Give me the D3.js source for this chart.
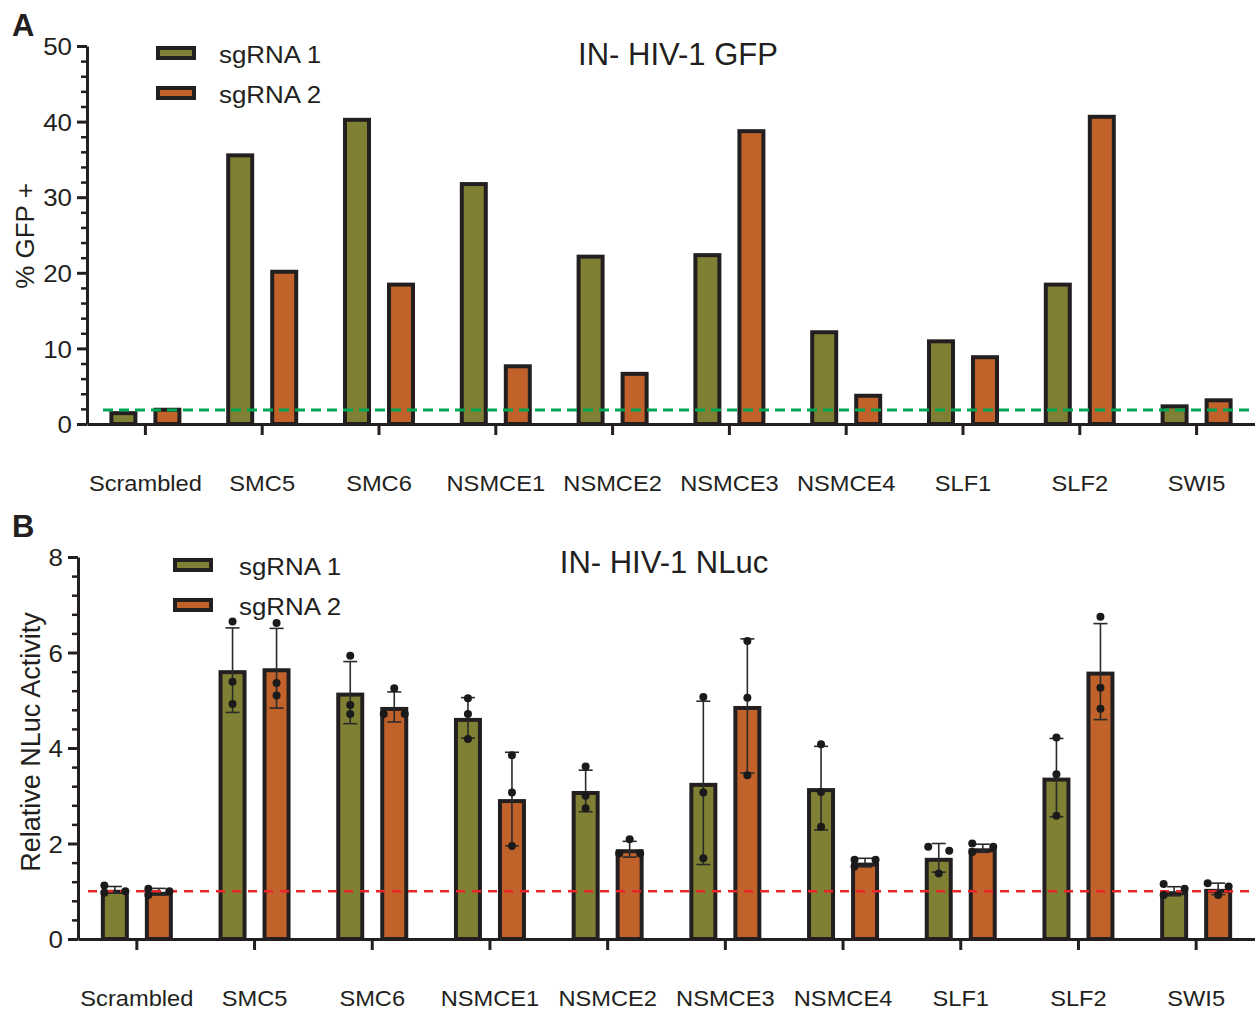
<!DOCTYPE html>
<html>
<head>
<meta charset="utf-8">
<script src="https://cdn.jsdelivr.net/npm/d3@7"></script>
<style>
  html, body { margin: 0; padding: 0; background: #fff; }
  svg { display: block; }
  text { font-family: "Liberation Sans", Arial, Helvetica, sans-serif; fill: #231f20; }
</style>
</head>
<body>
<svg id="chart" width="1255" height="1011"></svg>
<script>
// ---------------- DATA ----------------
const categories = ["Scrambled","SMC5","SMC6","NSMCE1","NSMCE2","NSMCE3","NSMCE4","SLF1","SLF2","SWI5"];
const seriesNames = ["sgRNA 1","sgRNA 2"];

// Panel A: % GFP+
const gfpSg1 = [1.7, 35.8, 40.5, 32.0, 22.4, 22.6, 12.4, 11.2, 18.7, 2.6];
const gfpSg2 = [2.15, 20.4, 18.7, 7.9, 6.9, 39.0, 4.0, 9.1, 40.9, 3.4];
const gfpReference = 1.85;
const gfpTicks = [0, 10, 20, 30, 40, 50];
const gfpMinorStep = 2;

// Panel B: relative NLuc activity (mean, SD, replicates)
const nlucSg1Mean = [1.03, 5.63, 5.16, 4.63, 3.10, 3.27, 3.16, 1.70, 3.38, 1.00];
const nlucSg2Mean = [0.99, 5.67, 4.86, 2.93, 1.88, 4.88, 1.60, 1.90, 5.60, 1.05];
const nlucSg1SD   = [0.07, 0.885, 0.65, 0.425, 0.435, 1.71, 0.875, 0.30, 0.82, 0.095];
const nlucSg2SD   = [0.07, 0.835, 0.315, 0.98, 0.165, 1.405, 0.09, 0.085, 1.005, 0.12];
const nlucSg1Reps = [
  [1.12, 0.97, 1.00], [6.65, 5.39, 4.92], [5.93, 4.90, 4.71], [5.04, 4.71, 4.19], [3.61, 3.00, 2.74],
  [5.07, 3.07, 1.69], [4.08, 3.08, 2.35], [1.93, 1.85, 1.37], [4.22, 3.45, 2.58], [1.15, 1.05, 0.92]
];
const nlucSg2Reps = [
  [1.05, 0.92, 1.00], [6.62, 5.36, 5.10], [5.25, 4.71, 4.71], [3.85, 3.07, 1.95], [2.09, 1.79, 1.79],
  [6.24, 5.05, 3.43], [1.66, 1.66, 1.52], [2.00, 1.93, 1.82], [6.75, 5.26, 4.82], [1.17, 1.10, 0.92]
];
const nlucReference = 1.0;
const nlucTicks = [0, 2, 4, 6, 8];
const nlucMinorStep = 0.4;

// ---------------- STYLE ----------------
const COLORS = ["#808034", "#c0622a"];
const INK = "#231f20";
const svg = d3.select("#chart");

function stext(g, x, y, str, size, anchor, sx, weight) {
  return g.append("text")
    .attr("transform", `translate(${x},${y}) scale(${sx},1)`)
    .attr("text-anchor", anchor)
    .style("font-size", size + "px")
    .style("font-weight", weight || "normal")
    .text(str);
}

function panel(cfg) {
  const g = svg.append("g");
  const x = d3.scaleBand().domain(categories).range([cfg.x0, 1255]).paddingInner(0).paddingOuter(0);
  const x1 = d3.scaleBand().domain(seriesNames).range([-36, 36]).paddingInner(0.364).paddingOuter(0);
  const y = d3.scaleLinear().domain([0, cfg.yMax]).range([cfg.yBottom, cfg.yTop]);
  const cx = c => x(c) + x.bandwidth() / 2;

  // bars
  const rows = [];
  categories.forEach((c, i) => {
    seriesNames.forEach((s, j) => {
      rows.push({c, s, j, v: cfg.values[j][i], i});
    });
  });
  g.append("g").selectAll("rect").data(rows).join("rect")
    .attr("x", d => cx(d.c) + x1(d.s) + 2)
    .attr("width", x1.bandwidth() - 4)
    .attr("y", d => y(d.v) + 2)
    .attr("height", d => Math.max(0, y(0) - y(d.v) - 2))
    .attr("fill", d => COLORS[d.j])
    .attr("stroke", INK)
    .attr("stroke-width", 4);

  // error bars
  if (cfg.sds) {
    const eb = g.append("g").attr("stroke", "#2a2a2a").attr("stroke-width", 1.6);
    rows.forEach(d => {
      const sd = cfg.sds[d.j][d.i];
      const bx = cx(d.c) + x1(d.s) + x1.bandwidth() / 2;
      const yHi = y(d.v + sd), yLo = y(d.v - sd);
      eb.append("line").attr("x1", bx).attr("x2", bx).attr("y1", yHi).attr("y2", yLo);
      eb.append("line").attr("x1", bx - 7).attr("x2", bx + 7).attr("y1", yHi).attr("y2", yHi);
      eb.append("line").attr("x1", bx - 7).attr("x2", bx + 7).attr("y1", yLo).attr("y2", yLo);
    });
  }

  // reference dashed line
  g.append("line")
    .attr("x1", cfg.x0 + cfg.refStart).attr("x2", 1255)
    .attr("y1", y(cfg.ref)).attr("y2", y(cfg.ref))
    .attr("stroke", cfg.refColor).attr("stroke-width", cfg.refWidth)
    .attr("stroke-dasharray", cfg.refDash);

  // replicate points
  if (cfg.reps) {
    const dots = g.append("g").attr("fill", "#1a1a1a");
    const r = 4, dx = 10.5;
    rows.forEach(d => {
      const bx = cx(d.c) + x1(d.s) + x1.bandwidth() / 2;
      const vals = cfg.reps[d.j][d.i].slice().sort((a, b) => b - a);
      const clusters = [];
      vals.forEach(v => {
        const last = clusters[clusters.length - 1];
        if (last && Math.abs(y(last[last.length - 1]) - y(v)) < 2 * r) last.push(v);
        else clusters.push([v]);
      });
      clusters.forEach(cl => {
        cl.forEach((v, k) => {
          const off = cl.length === 1 ? 0 : (k % 2 === 0 ? -dx : dx);
          dots.append("circle").attr("cx", bx + off).attr("cy", y(v)).attr("r", r);
        });
      });
    });
  }

  // axes
  const minor = d3.range(0, cfg.yMax + 1e-9, cfg.minorStep).filter(v => !cfg.ticks.some(t => Math.abs(t - v) < 1e-9));
  const yMinor = g.append("g").attr("transform", `translate(${cfg.x0},0)`)
    .call(d3.axisLeft(y).tickValues(minor).tickSize(6).tickFormat(""));
  yMinor.select(".domain").remove();
  yMinor.selectAll("line").attr("stroke", INK).attr("stroke-width", 2.5);

  const yAxis = g.append("g").attr("transform", `translate(${cfg.x0},0)`)
    .call(d3.axisLeft(y).tickValues(cfg.ticks).tickSize(10).tickSizeOuter(0).tickFormat(d3.format("d")));
  yAxis.select(".domain").attr("stroke", INK).attr("stroke-width", 3);
  yAxis.selectAll(".tick line").attr("stroke", INK).attr("stroke-width", 3);
  yAxis.selectAll(".tick text")
    .attr("x", -15 / 1.08).attr("dy", "0.36em")
    .attr("transform", "scale(1.08,1)")
    .style("font-size", "24px").attr("fill", INK);
  yAxis.attr("font-family", null).attr("font-size", null);

  const xAxis = g.append("g").attr("transform", `translate(0,${cfg.yBottom})`)
    .call(d3.axisBottom(x).tickSize(11).tickSizeOuter(0).tickPadding(41));
  xAxis.select(".domain").attr("stroke", INK).attr("stroke-width", 3);
  xAxis.selectAll(".tick line").attr("stroke", INK).attr("stroke-width", 3);
  xAxis.selectAll(".tick text")
    .attr("transform", "scale(1.1,1)")
    .style("font-size", "21.5px").attr("fill", INK);
  xAxis.attr("font-family", null).attr("font-size", null);

  // y title
  g.append("text")
    .attr("transform", `translate(${cfg.yTitleX},${cfg.yTitleY}) rotate(-90)`)
    .attr("text-anchor", "middle")
    .style("font-size", cfg.yTitleSize + "px")
    .text(cfg.yTitle);

  // title
  stext(g, cfg.titleX, cfg.titleY, cfg.title, 31, "middle", 1.0);

  // panel letter
  stext(g, 12, cfg.letterY, cfg.letter, 31, "start", 1.0, "bold");

  // legend
  seriesNames.forEach((s, j) => {
    g.append("rect")
      .attr("x", cfg.legX + 2).attr("y", cfg.legY + j * 40 + 2)
      .attr("width", 36).attr("height", 10)
      .attr("fill", COLORS[j]).attr("stroke", INK).attr("stroke-width", 4);
    stext(g, cfg.legTextX, cfg.legY + j * 40 + 17, s, 24, "start", 1.08);
  });
}

panel({
  x0: 87, yTop: 46, yBottom: 424, yMax: 50,
  values: [gfpSg1, gfpSg2], ticks: gfpTicks, minorStep: gfpMinorStep,
  ref: gfpReference, refColor: "#00a651", refWidth: 3, refDash: "10,6", refStart: 16,
  yTitle: "% GFP +", yTitleX: 34, yTitleY: 236, yTitleSize: 26,
  title: "IN- HIV-1 GFP", titleX: 678, titleY: 65,
  letter: "A", letterY: 36,
  legX: 156, legY: 46, legTextX: 219
});

panel({
  x0: 78, yTop: 557, yBottom: 939, yMax: 8,
  values: [nlucSg1Mean, nlucSg2Mean], sds: [nlucSg1SD, nlucSg2SD], reps: [nlucSg1Reps, nlucSg2Reps],
  ticks: nlucTicks, minorStep: nlucMinorStep,
  ref: nlucReference, refColor: "#e8262a", refWidth: 2.5, refDash: "9,7", refStart: 10,
  yTitle: "Relative NLuc Activity", yTitleX: 40, yTitleY: 742, yTitleSize: 27,
  title: "IN- HIV-1 NLuc", titleX: 664, titleY: 573,
  letter: "B", letterY: 537,
  legX: 173, legY: 558, legTextX: 239
});
</script>
</body>
</html>
